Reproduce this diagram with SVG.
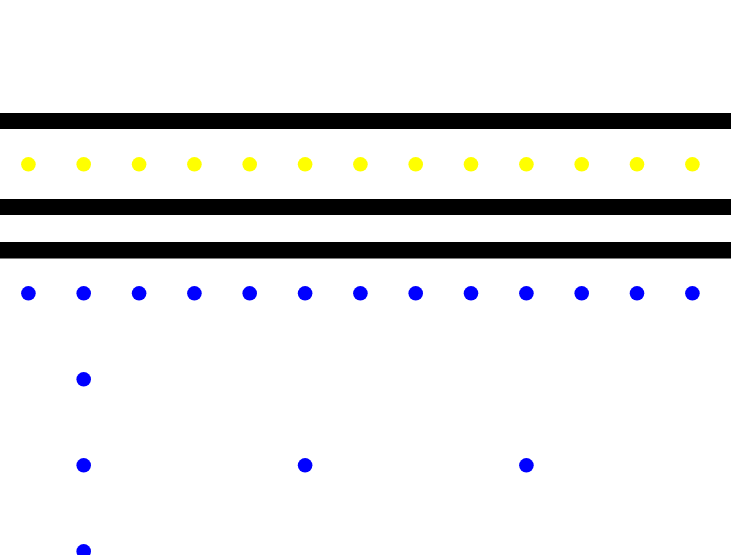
<svg xmlns="http://www.w3.org/2000/svg" width="731" height="555" viewBox="0 0 731 555">
<style>
.bar{fill:#000}
.y{fill:#ffff00}
.b{fill:#0000ff}
</style>
<rect width="731" height="555" fill="#fff"/>
<g id="bars">
<rect class="bar" x="0" y="113" width="731" height="16"/>
<rect class="bar" x="0" y="199" width="731" height="16"/>
<rect class="bar" x="0" y="242" width="731" height="16.5"/>
</g>
<g id="yellow">
<circle class="y" cx="28.4" cy="164.3" r="7.3"/>
<circle class="y" cx="83.7" cy="164.3" r="7.3"/>
<circle class="y" cx="139.1" cy="164.3" r="7.3"/>
<circle class="y" cx="194.4" cy="164.3" r="7.3"/>
<circle class="y" cx="249.7" cy="164.3" r="7.3"/>
<circle class="y" cx="305.1" cy="164.3" r="7.3"/>
<circle class="y" cx="360.4" cy="164.3" r="7.3"/>
<circle class="y" cx="415.7" cy="164.3" r="7.3"/>
<circle class="y" cx="471.0" cy="164.3" r="7.3"/>
<circle class="y" cx="526.4" cy="164.3" r="7.3"/>
<circle class="y" cx="581.7" cy="164.3" r="7.3"/>
<circle class="y" cx="637.0" cy="164.3" r="7.3"/>
<circle class="y" cx="692.4" cy="164.3" r="7.3"/>
</g>
<g id="blue">
<circle class="b" cx="28.4" cy="293.3" r="7.3"/>
<circle class="b" cx="83.7" cy="293.3" r="7.3"/>
<circle class="b" cx="139.1" cy="293.3" r="7.3"/>
<circle class="b" cx="194.4" cy="293.3" r="7.3"/>
<circle class="b" cx="249.7" cy="293.3" r="7.3"/>
<circle class="b" cx="305.1" cy="293.3" r="7.3"/>
<circle class="b" cx="360.4" cy="293.3" r="7.3"/>
<circle class="b" cx="415.7" cy="293.3" r="7.3"/>
<circle class="b" cx="471.0" cy="293.3" r="7.3"/>
<circle class="b" cx="526.4" cy="293.3" r="7.3"/>
<circle class="b" cx="581.7" cy="293.3" r="7.3"/>
<circle class="b" cx="637.0" cy="293.3" r="7.3"/>
<circle class="b" cx="692.4" cy="293.3" r="7.3"/>
<circle class="b" cx="83.7" cy="379.3" r="7.3"/>
<circle class="b" cx="83.7" cy="465.3" r="7.3"/>
<circle class="b" cx="305.1" cy="465.3" r="7.3"/>
<circle class="b" cx="526.4" cy="465.3" r="7.3"/>
<circle class="b" cx="83.7" cy="551.3" r="7.3"/>
</g>
</svg>
